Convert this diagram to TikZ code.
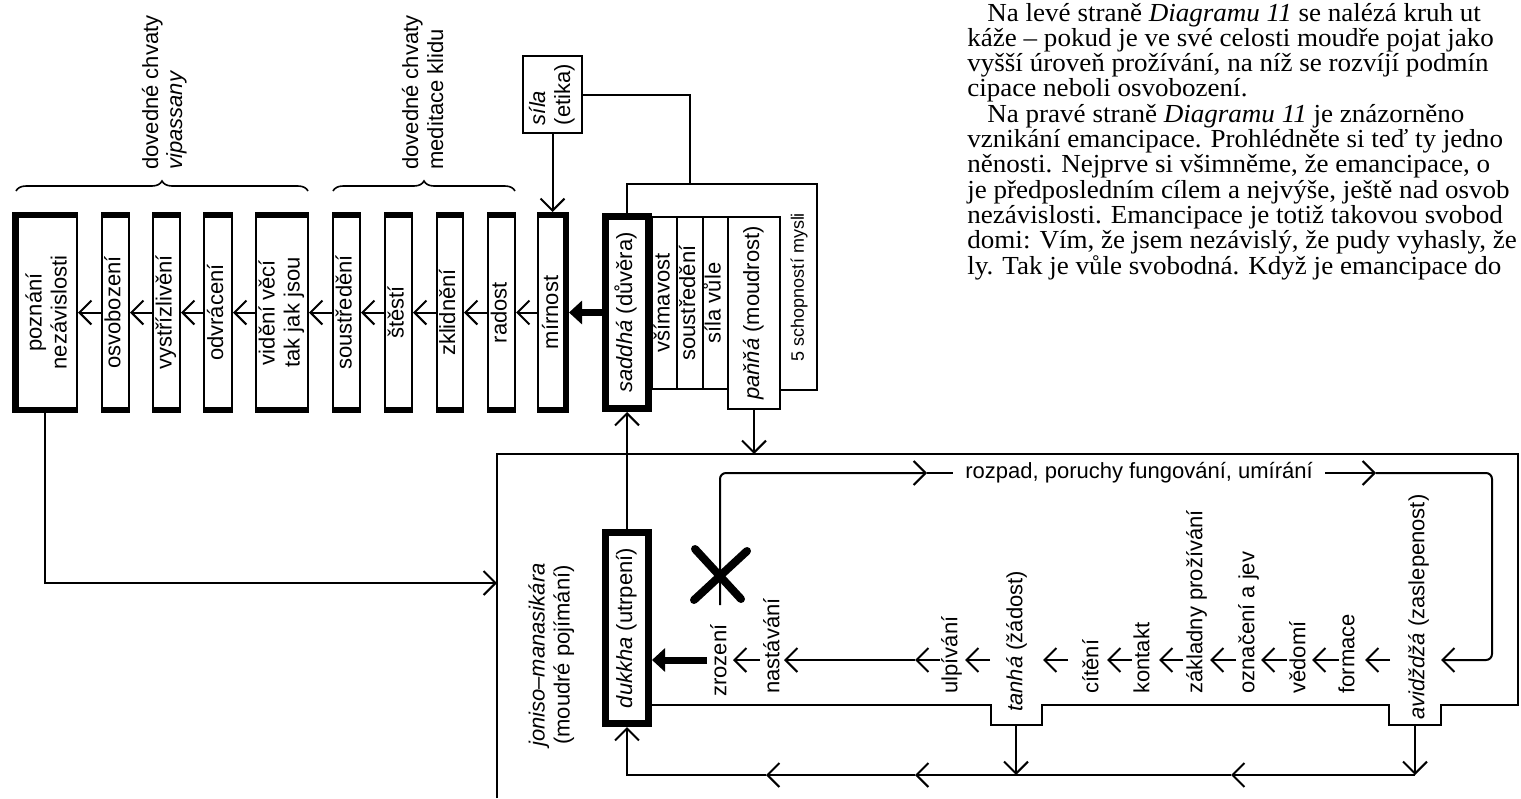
\documentclass[tikz,border=0pt]{standalone}
\usepackage{graphicx}
\usepackage{fontspec}
\setmainfont{Liberation Sans}
\newfontfamily\bookfont[FakeStretch=1.04]{Liberation Serif}
\usetikzlibrary{arrows.meta,decorations.pathreplacing}

\newcommand{\dfont}{\fontsize{11}{12.5}\selectfont}
\newcommand{\vt}[1]{\rotatebox{90}{\begin{tabular}{@{}c@{}}#1\end{tabular}}}
\newcommand{\vtl}[1]{\rotatebox{90}{\begin{tabular}{@{}l@{}}#1\end{tabular}}}

\tikzset{
  box/.style={draw, line width=1pt, inner sep=0pt, minimum height=99.5pt, font=\dfont},
  heavy/.style={draw, line width=3.5pt, inner sep=0pt, font=\dfont},
  ln/.style={line width=1pt},
  arr/.style={line width=1pt, -{Straight Barb[length=6pt,width=12pt]}},
  bigarr/.style={line width=3.5pt, -{Triangle[length=6.5pt,width=11.5pt]}},
  lbl/.style={inner sep=0pt, rotate=90, anchor=mid west, font=\dfont},
  para/.style={inner sep=0pt, anchor=base west, font=\bookfont\fontsize{13}{15}\selectfont},
  brc/.style={line width=0.8pt, decorate, decoration={brace, amplitude=5pt}},
}

\begin{document}
\begin{tikzpicture}[x=0.5pt,y=-0.5pt]
\useasboundingbox (0,0) rectangle (1521,798);

% ---------- upper row: the path of emancipation ----------
\node[box, minimum width=32pt]   (poz) at (45,312.5) {};
\node[font=\dfont, inner sep=0pt] (pozT) at (49,312.5) {\vt{poznání\\nezávislosti}};
\node[box, minimum width=13.5pt] (osv) at (115.5,312.5) {\vt{osvobození}};
\node[box, minimum width=13.5pt] (vys) at (166.5,312.5) {\vt{vystřízlivění}};
\node[box, minimum width=14pt]   (odv) at (218,312.5)   {\vt{odvrácení}};
\node[box, minimum width=26pt]   (vid) at (282,312.5)   {\vt{vidění věcí\\tak jak jsou}};
\node[box, minimum width=13.5pt] (sou) at (346.5,312.5) {\vt{soustředění}};
\node[box, minimum width=13.5pt] (ste) at (398.5,312.5) {\vt{štěstí}};
\node[box, minimum width=13pt]   (zkl) at (450,312.5)   {\vt{zklidnění}};
\node[box, minimum width=13.5pt] (rad) at (501.5,312.5) {\vt{radost}};
\node[box, minimum width=15pt]   (mir) at (553,312.5)   {\vt{mírnost}};

% heavy top and bottom edges of the stage boxes
\foreach \bx in {poz,osv,vys,odv,vid,sou,ste,zkl,rad,mir} {
  \fill (\bx.north west) rectangle ([yshift=-3pt]\bx.north east);
  \fill ([yshift=3pt]\bx.south west) rectangle (\bx.south east);
}
\fill (poz.north west) rectangle ([xshift=3.5pt]poz.south west);
\fill ([xshift=-3pt]mir.north east) rectangle (mir.south east);

\draw[arr] (osv.west) -- (poz.east);
\draw[arr] (vys.west) -- (osv.east);
\draw[arr] (odv.west) -- (vys.east);
\draw[arr] (vid.west) -- (odv.east);
\draw[arr] (sou.west) -- (vid.east);
\draw[arr] (ste.west) -- (sou.east);
\draw[arr] (zkl.west) -- (ste.east);
\draw[arr] (rad.west) -- (zkl.east);
\draw[arr] (mir.west) -- (rad.east);

% group labels with braces
\draw[brc] (16,191) -- (308,191);
\draw[brc] (333,191) -- (515,191);
\node[lbl, anchor=base west] (vipA) at (158,170) {dovedné chvaty};
\node[lbl, anchor=base west] (vipB) at (182,170) {\textit{vipassany}};
\node[lbl, anchor=base west] (kliA) at (418,170) {dovedné chvaty};
\node[lbl, anchor=base west] (kliB) at (443,170) {meditace klidu};

% ---------- the five faculties ----------
\node[heavy, minimum width=21.5pt, minimum height=96pt] (sad) at (627,312.5) {\vt{\textit{saddhá} (důvěra)}};
\draw[bigarr] (sad.west) -- (mir.east);

\node[box, minimum width=12.5pt, minimum height=86pt] (vsi) at (664.5,303) {\vt{všímavost}};
\node[box, minimum width=13pt,   minimum height=86pt] (sos) at (690,303)   {\vt{soustředění}};
\node[box, minimum width=12.5pt, minimum height=86pt] (svu) at (715.5,303) {\vt{síla vůle}};
\node[box, minimum width=26pt,   minimum height=96pt] (pan) at (754,313)   {\vt{\textit{paňňá} (moudrost)}};

\coordinate (ftr) at (817,184);
\coordinate (fbr) at (817,390);
\draw[ln] (sad.north) -- (sad.north |- ftr) -- (ftr) -- (fbr) -- (fbr -| pan.east);
\node[font=\fontsize{9}{11}\selectfont, inner sep=0pt] (five) at (799,287) {\rotatebox{90}{5 schopností mysli}};

% ethics
\node[draw, line width=1pt, minimum width=29.5pt, minimum height=38.5pt, inner sep=0pt, font=\dfont] (sil) at (552.5,94.5) {\vtl{\textit{síla}\\(etika)}};
\draw[arr] (sil.south) -- (sil.south |- mir.north);
\coordinate (ftm) at (690,184);
\draw[ln] (sil.east) -| (ftm);

% ---------- lower frame: wise attention ----------
\node[heavy, minimum width=21.5pt, minimum height=95.5pt] (duk) at (627,628) {\vt{\textit{dukkha} (utrpení)}};

\coordinate (m0) at (497,798);
\coordinate (m1) at (497,454);
\coordinate (m2) at (1518,454);
\coordinate (m3) at (1518,705);
\draw[ln] (m0) -- (m1) -- (m2) -- (m3) -- (1441,705) -- (1441,725) -- (1389,725) -- (1389,705)
  -- (1042,705) -- (1042,725) -- (991,725) -- (991,705) -- (duk.east |- m3);

\node[font=\dfont, inner sep=0pt] (jon) at (552,655) {\vt{\textit{joniso–manasikára}\\(moudré pojímání)}};

\draw[arr] (duk.north) -- (sad.south);
\draw[arr] (pan.south) -- (pan.south |- m1);
\coordinate (jin) at (497,583);
\draw[arr] (poz.south) |- (jin);

% return paths under the frame
\coordinate (nA) at (1415,725);
\coordinate (nT) at (1016,725);
\coordinate (bA) at (1415,775);
\coordinate (bT) at (1016,775);
\coordinate (b1) at (1231,775);
\coordinate (b2) at (915,775);
\coordinate (b3) at (766,775);
\draw[arr] (nA) -- (bA);
\draw[arr] (nT) -- (bT);
\draw[arr] (bA) -- (b1);
\draw[arr] (b1) -- (b2);
\draw[arr] (b2) -- (b3);
\draw[arr] (b3) -| (duk.south);

% the chain of dependent arising
\node[lbl] (zro) at (721,697)  {zrození};
\node[lbl] (nas) at (774,694)  {nastávání};
\node[lbl] (ulp) at (952,694)  {ulpívání};
\node[lbl] (tan) at (1017,712) {\textit{tanhá} (žádost)};
\node[lbl] (cit) at (1093,694) {cítění};
\node[lbl] (kon) at (1144,694) {kontakt};
\node[lbl] (zak) at (1197,694) {základny prožívání};
\node[lbl] (ozn) at (1249,694) {označení a jev};
\node[lbl] (ved) at (1300,694) {vědomí};
\node[lbl] (frm) at (1349,694) {formace};
\node[lbl] (avi) at (1419,720) {\textit{avidždžá} (zaslepenost)};

\foreach \s/\t [count=\i] in {760/733, 990/965, 1068/1043, 1132/1107, 1183/1159,
                              1236/1210, 1287/1261, 1339/1312, 1390/1365} {
  \coordinate (cs\i) at (\s,660);
  \coordinate (ct\i) at (\t,660);
  \draw[arr] (cs\i) -- (ct\i);
}
\coordinate (u0) at (940,660);
\coordinate (u1) at (915,660);
\coordinate (u2) at (784,660);
\draw[arr] (u0) -- (u1);
\draw[arr] (u1) -- (u2);

\coordinate (zs) at (707,660);
\draw[bigarr] (zs) -- (zs -| duk.east);

% decay and death loop, cut by the cross
\coordinate (xc) at (720,605);
\coordinate (r1) at (927,473);
\coordinate (r2) at (1376,473);
\coordinate (rc1) at (1492,473);
\coordinate (rc2) at (1492,660);
\coordinate (r3) at (1441,660);
\node[font=\dfont, inner xsep=6pt, inner ysep=0pt, anchor=mid west] (roz) at (953,473) {rozpad, poruchy fungování, umírání};
\draw[arr, rounded corners=3pt] (xc) |- (r1);
\draw[ln] (r1) -- (roz.mid west);
\draw[arr] (roz.mid east) -- (r2);
\draw[arr, rounded corners=3pt] (r2) -- (rc1) -- (rc2) -- (r3);

\draw[line width=4pt, line cap=round] (695,549) -- (741,599);
\draw[line width=4pt, line cap=round] (747,551) -- (694,600);

% ---------- running text beside the diagram ----------
\begin{scope}
\clip (0,0) rectangle (1521,798);
\node[para] (p1)  at (987,21)    {Na levé straně \textit{Diagramu 11} se nalézá kruh ut};
\node[para] (p2)  at (967,46.3)  {káže – pokud je ve své celosti moudře pojat jako};
\node[para] (p3)  at (967,71.6)  {vyšší úroveň prožívání, na níž se rozvíjí podmín};
\node[para] (p4)  at (967,96.9)  {cipace neboli osvobození.};
\node[para] (p5)  at (987,122.2) {Na pravé straně \textit{Diagramu 11} je znázorněno};
\node[para] (p6)  at (967,147.5) {vznikání emancipace. Prohlédněte si teď ty jedno};
\node[para] (p7)  at (967,172.8) {něnosti. Nejprve si všimněme, že emancipace, o};
\node[para] (p8)  at (967,198.1) {je předposledním cílem a nejvýše, ještě nad osvob};
\node[para] (p9)  at (967,223.4) {nezávislosti. Emancipace je totiž takovou svobod};
\node[para] (p10) at (967,248.7) {domi: Vím, že jsem nezávislý, že pudy vyhasly, že};
\node[para] (p11) at (967,274)   {ly. Tak je vůle svobodná. Když je emancipace do};
\end{scope}

\end{tikzpicture}
\end{document}
